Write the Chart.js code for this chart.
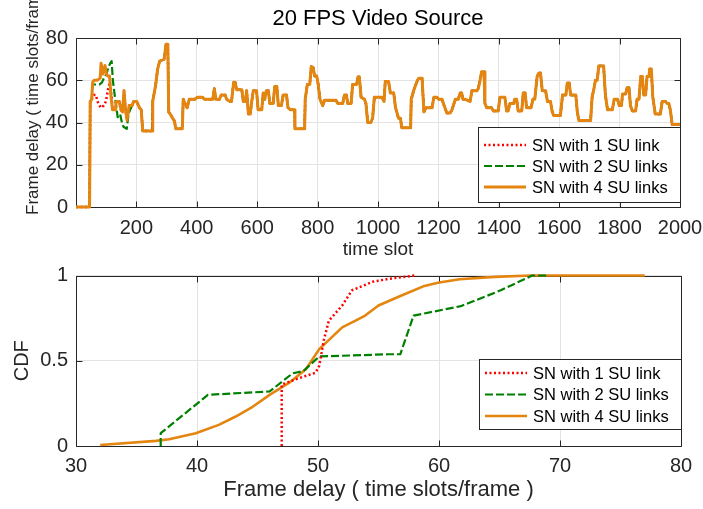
<!DOCTYPE html>
<html>
<head>
<meta charset="utf-8">
<title>20 FPS Video Source</title>
<script src="https://cdn.jsdelivr.net/npm/chart.js@4.4.1/dist/chart.umd.min.js"></script>
<style>
  html, body { margin: 0; padding: 0; background: #fff; }
  #wrap { position: relative; width: 703px; height: 509px; }
  .pane { position: absolute; left: 0; width: 703px; }
  #top { top: 0; height: 262px; }
  #bottom { top: 262px; height: 247px; }
</style>
</head>
<body>
<div id="wrap">
  <div class="pane" id="top"><canvas id="delayChart" width="703" height="262"></canvas></div>
  <div class="pane" id="bottom"><canvas id="cdfChart" width="703" height="247"></canvas></div>
</div>
<script>
// series names
const legendLabels = ['SN with 1 SU link', 'SN with 2 SU links', 'SN with 4 SU links'];

// top plot: frame delay per time slot (4 SU links, full run)
const delaySlots4 = [
  0, 45, 47, 52, 55, 60, 70, 80, 83, 89, 96, 101, 105, 111, 116, 121, 131, 133, 143, 149,
  154, 159, 164, 169, 176, 186, 191, 201, 210, 216, 221, 252, 254, 264, 270, 277, 292, 298, 304, 307,
  312, 320, 325, 331, 352, 355, 361, 368, 375, 393, 403, 418, 425, 453, 458, 463, 475, 481, 494, 499,
  509, 515, 522, 527, 532, 549, 554, 561, 565, 571, 577, 582, 587, 598, 603, 615, 620, 625, 630, 637,
  642, 653, 658, 665, 670, 680, 686, 697, 702, 710, 724, 725, 757, 759, 766, 774, 779, 785, 790, 797,
  802, 808, 817, 823, 861, 867, 883, 889, 895, 900, 911, 916, 929, 934, 938, 944, 955, 960, 966, 976,
  982, 988, 1007, 1013, 1020, 1024, 1035, 1041, 1052, 1058, 1068, 1074, 1079, 1108, 1110, 1119, 1129, 1135, 1146, 1152,
  1159, 1179, 1185, 1195, 1201, 1212, 1219, 1228, 1239, 1245, 1256, 1266, 1272, 1277, 1281, 1289, 1305, 1311, 1327, 1332,
  1338, 1343, 1351, 1354, 1360, 1376, 1382, 1398, 1404, 1420, 1426, 1431, 1437, 1449, 1453, 1459, 1464, 1476, 1481, 1487,
  1492, 1507, 1513, 1519, 1522, 1527, 1533, 1538, 1544, 1555, 1561, 1571, 1577, 1582, 1604, 1611, 1622, 1627, 1633, 1638,
  1655, 1660, 1665, 1704, 1709, 1715, 1720, 1726, 1731, 1747, 1753, 1760, 1776, 1782, 1793, 1799, 1806, 1810, 1820, 1825,
  1831, 1836, 1842, 1853, 1858, 1864, 1870, 1875, 1880, 1886, 1891, 1897, 1900, 1905, 1910, 1918, 1935, 1941, 1952, 1957,
  1963, 1968, 1974, 2000
];
const delayValues4 = [
  0, 0, 50, 51, 59, 60, 60, 61, 68, 63, 67, 63, 62, 62, 52, 46, 46, 50, 50, 46,
  45, 55, 46, 41, 48, 48, 50, 50, 47, 46, 36, 36, 50, 58, 65, 69, 70, 77, 77, 45,
  44, 42, 41, 37, 37, 51, 49, 47, 51, 51, 52, 52, 51, 51, 56, 51, 51, 53, 53, 51,
  50, 50, 59, 59, 55.5, 55.5, 50, 50, 55, 44, 44, 50, 55, 55, 46, 46, 54, 51, 55, 55,
  49, 49, 57, 57, 48, 48, 53, 53, 47, 46, 46, 37, 37, 51, 58, 58, 66.5, 66, 62, 62,
  58, 51, 48, 50.5, 50.5, 49, 49, 53, 53, 49, 49, 58, 58, 61.6, 61.6, 52, 51, 49, 40, 40,
  42, 52, 52, 52, 50, 59.4, 59.4, 54, 54, 47, 42, 42, 37.5, 37.5, 51, 55.5, 59.4, 61, 61, 45,
  47, 47, 52, 52, 51, 51, 48, 44.5, 44.5, 46, 51, 51, 54, 54, 51, 51, 50, 55, 55, 56,
  60, 64, 64, 49, 47, 47, 45.5, 45.5, 52, 52, 45.5, 45.5, 49, 49, 51, 51, 45.5, 45.5, 54, 54,
  47, 47, 51, 51, 55, 61.8, 63.4, 63.4, 55, 55, 50, 50, 45, 43.3, 43.3, 53, 53, 58.7, 58.7, 53,
  53, 45, 41, 41, 52, 56, 60, 60, 66.8, 66.8, 53, 46, 46, 51, 51, 48, 48, 53.5, 53.5, 56.5,
  56.5, 48, 45.5, 45.5, 51, 51, 61.8, 61.8, 53, 53, 61.8, 61.8, 65.3, 65.3, 52, 44, 44, 50, 50, 49,
  49, 46, 39, 39
];

// 2 SU links: only the start differs from the 4-link run
const delaySlots2 = [0, 45, 47, 52, 55, 78, 86, 96, 101, 107, 113, 118, 122, 129, 138, 146, 152, 157, 168, 174, 179];
const delayValues2 = [0, 0, 50, 51, 58, 58, 59, 62, 63, 66, 68, 69, 60, 52, 42.5, 44, 40, 38, 37, 44, 46];

// 1 SU link: only the start differs from the 4-link run
const delaySlots1 = [0, 45, 47, 52, 60, 66, 71, 82, 92, 99, 106, 112, 118, 121];
const delayValues1 = [0, 0, 50, 51, 53, 53, 50, 47, 48, 50, 55.5, 59, 52, 46];

// bottom plot: CDF of frame delay
const cdfDelay1 = [47, 47, 48.1, 49.8, 50.1, 50.5, 50.9, 52, 52.8, 54.5, 55.8, 58];
const cdfProb1 = [0, 0.36, 0.39, 0.43, 0.47, 0.627, 0.735, 0.824, 0.913, 0.963, 0.98, 1];
const cdfDelay2 = [37, 37, 40.9, 46, 47.9, 48.8, 50.1, 55.8, 56.8, 57.9, 61.8, 65.1, 67.7, 69];
const cdfProb2 = [0, 0.075, 0.30, 0.32, 0.426, 0.44, 0.525, 0.538, 0.538, 0.765, 0.82, 0.913, 1, 1];
const cdfDelay4 = [32, 36.6, 37.7, 39.9, 41.8, 43.2, 44.6, 46, 47.6, 49, 50.1, 52, 53.1, 53.9, 55, 56.9, 58.8, 59.9, 61.7, 64.6, 67.6, 77];
const cdfProb4 = [0.006, 0.03, 0.04, 0.075, 0.124, 0.173, 0.23, 0.30, 0.37, 0.45, 0.568, 0.696, 0.735, 0.765, 0.824, 0.883, 0.939, 0.957, 0.978, 0.992, 1, 1];

// tick positions
const delayTicksX = [200, 400, 600, 800, 1000, 1200, 1400, 1600, 1800, 2000];
const delayTicksY = [0, 20, 40, 60, 80];
const cdfTicksX = [30, 40, 50, 60, 70, 80];
const cdfTicksY = [0, 0.5, 1];

const FONT = "'Liberation Sans', Arial, Helvetica, sans-serif";
const AXIS_COLOR = '#262626';
const GRID_COLOR = '#e3e3e3';
const RED = '#ff0000';
const GREEN = '#008000';
const ORANGE = '#e3850e';

function toPoints(xs, ys) {
  return xs.map((x, i) => ({ x: x, y: ys[i] }));
}

// early part of a run followed by the shared 4-link tail
function withTail(xs, ys) {
  const last = xs[xs.length - 1];
  const tail = toPoints(delaySlots4, delayValues4).filter(p => p.x > last);
  return toPoints(xs, ys).concat(tail);
}

function fixedTicks(list) {
  return s => { s.ticks = list.map(v => ({ value: v })); };
}

// MATLAB style box with inward tick marks
const axesBox = {
  id: 'axesBox',
  beforeDatasetsDraw(chart) {
    const { ctx, chartArea: a, scales: { x, y } } = chart;
    const l = Math.round(a.left) + 0.5, r = Math.round(a.right) + 0.5;
    const t = Math.round(a.top) + 0.5, b = Math.round(a.bottom) + 0.5;
    ctx.save();
    ctx.strokeStyle = AXIS_COLOR;
    ctx.lineWidth = 1;
    ctx.beginPath();
    ctx.rect(l, t, r - l, b - t);
    x.ticks.forEach(tk => {
      const px = Math.round(x.getPixelForValue(tk.value)) + 0.5;
      ctx.moveTo(px, b); ctx.lineTo(px, b - 6);
      ctx.moveTo(px, t); ctx.lineTo(px, t + 6);
    });
    y.ticks.forEach(tk => {
      const py = Math.round(y.getPixelForValue(tk.value)) + 0.5;
      ctx.moveTo(l, py); ctx.lineTo(l + 6, py);
      ctx.moveTo(r, py); ctx.lineTo(r - 6, py);
    });
    ctx.stroke();
    ctx.restore();
  }
};

function boxLegend(box) {
  return {
    id: 'boxLegend',
    afterDraw(chart) {
      const ctx = chart.ctx;
      ctx.save();
      ctx.fillStyle = '#fff';
      ctx.fillRect(box.x, box.y, box.w, box.h);
      ctx.strokeStyle = AXIS_COLOR;
      ctx.lineWidth = 1;
      ctx.strokeRect(box.x + 0.5, box.y + 0.5, box.w, box.h);
      ctx.font = '16.5px ' + FONT;
      ctx.textBaseline = 'middle';
      legendLabels.forEach((label, i) => {
        const ds = chart.data.datasets.find(d => d.label === label);
        const cy = box.y + box.first + i * box.step;
        ctx.strokeStyle = ds.borderColor;
        ctx.lineWidth = ds.borderWidth;
        ctx.setLineDash(ds.borderDash || []);
        ctx.beginPath();
        ctx.moveTo(box.x + 6, cy);
        ctx.lineTo(box.x + 48, cy);
        ctx.stroke();
        ctx.setLineDash([]);
        ctx.fillStyle = '#000';
        ctx.fillText(label, box.x + 54, cy + 1);
      });
      ctx.restore();
    }
  };
}

function textPlugin(items) {
  return {
    id: 'extraText',
    afterDraw(chart) {
      const ctx = chart.ctx;
      items.forEach(it => {
        ctx.save();
        ctx.translate(it.x, it.y);
        ctx.rotate(it.rotate || 0);
        ctx.font = it.size + 'px ' + FONT;
        ctx.fillStyle = it.color || '#000';
        ctx.textAlign = 'center';
        ctx.textBaseline = 'middle';
        ctx.fillText(it.text, 0, 0);
        ctx.restore();
      });
    }
  };
}

function lineSet(label, data, color, width, dash, order) {
  return {
    label: label,
    data: data,
    borderColor: color,
    backgroundColor: color,
    borderWidth: width,
    borderDash: dash,
    borderJoinStyle: 'round',
    pointRadius: 0,
    fill: false,
    tension: 0,
    clip: 6,
    order: order
  };
}

const tickFont = { family: FONT, size: 20 };
const plainLabel = v => String(v);

// top chart
new Chart(document.getElementById('delayChart'), {
  type: 'line',
  data: {
    datasets: [
      lineSet(legendLabels[2], toPoints(delaySlots4, delayValues4), ORANGE, 3, [], 0),
      lineSet(legendLabels[1], withTail(delaySlots2, delayValues2), GREEN, 2.2, [8, 3], 1),
      lineSet(legendLabels[0], withTail(delaySlots1, delayValues1), RED, 2.5, [2, 2.5], 2)
    ]
  },
  options: {
    responsive: false,
    animation: false,
    events: [],
    layout: { padding: { left: 0, right: 23, top: 38, bottom: 0 } },
    plugins: { legend: { display: false }, tooltip: { enabled: false }, title: { display: false } },
    scales: {
      x: {
        type: 'linear', min: 0, max: 2000,
        afterBuildTicks: fixedTicks(delayTicksX),
        afterFit: s => { s.height = 55; s.paddingLeft = 0; s.paddingRight = 0; },
        grid: { color: GRID_COLOR, drawTicks: false },
        border: { display: false },
        ticks: { font: tickFont, color: AXIS_COLOR, padding: 9, maxRotation: 0, autoSkip: false, callback: plainLabel },
        title: { display: true, text: 'time slot', font: { family: FONT, size: 19 }, color: AXIS_COLOR, padding: { top: 0, bottom: 1 } }
      },
      y: {
        type: 'linear', min: 0, max: 80,
        afterBuildTicks: fixedTicks(delayTicksY),
        afterFit: s => { s.width = 76; s.paddingTop = 0; s.paddingBottom = 0; },
        grid: { color: GRID_COLOR, drawTicks: false },
        border: { display: false },
        ticks: { font: tickFont, color: AXIS_COLOR, padding: 8, callback: plainLabel }
      }
    }
  },
  plugins: [
    axesBox,
    boxLegend({ x: 478, y: 127, w: 202, h: 75, first: 18, step: 21 }),
    textPlugin([
      { text: '20 FPS Video Source', x: 378, y: 19, size: 22 },
      { text: 'Frame delay ( time slots/frame )', x: 33, y: 95, size: 17, rotate: -Math.PI / 2, color: AXIS_COLOR }
    ])
  ]
});

// bottom chart
new Chart(document.getElementById('cdfChart'), {
  type: 'line',
  data: {
    datasets: [
      lineSet(legendLabels[0], toPoints(cdfDelay1, cdfProb1), RED, 2.5, [2, 2.5], 0),
      lineSet(legendLabels[1], toPoints(cdfDelay2, cdfProb2), GREEN, 2.2, [8, 3], 1),
      lineSet(legendLabels[2], toPoints(cdfDelay4, cdfProb4), ORANGE, 2.6, [], 2)
    ]
  },
  options: {
    responsive: false,
    animation: false,
    events: [],
    layout: { padding: { left: 0, right: 22, top: 13.5, bottom: 0 } },
    plugins: { legend: { display: false }, tooltip: { enabled: false }, title: { display: false } },
    scales: {
      x: {
        type: 'linear', min: 30, max: 80,
        afterBuildTicks: fixedTicks(cdfTicksX),
        afterFit: s => { s.height = 63; s.paddingLeft = 0; s.paddingRight = 0; },
        grid: { color: GRID_COLOR, drawTicks: false },
        border: { display: false },
        ticks: { font: tickFont, color: AXIS_COLOR, padding: 8, maxRotation: 0, autoSkip: false, callback: plainLabel },
        title: { display: true, text: 'Frame delay ( time slots/frame )', font: { family: FONT, size: 22 }, color: AXIS_COLOR, padding: { top: 0, bottom: 6 } }
      },
      y: {
        type: 'linear', min: 0, max: 1,
        afterBuildTicks: fixedTicks(cdfTicksY),
        afterFit: s => { s.width = 76; s.paddingTop = 0; s.paddingBottom = 0; },
        grid: { color: GRID_COLOR, drawTicks: false },
        border: { display: false },
        ticks: { font: tickFont, color: AXIS_COLOR, padding: 8, callback: plainLabel },
        title: { display: true, text: 'CDF', font: { family: FONT, size: 20 }, color: AXIS_COLOR, padding: { top: 10, bottom: 0 } }
      }
    }
  },
  plugins: [
    axesBox,
    boxLegend({ x: 479, y: 97, w: 202, h: 70, first: 14, step: 21.5 })
  ]
});
</script>
</body>
</html>
